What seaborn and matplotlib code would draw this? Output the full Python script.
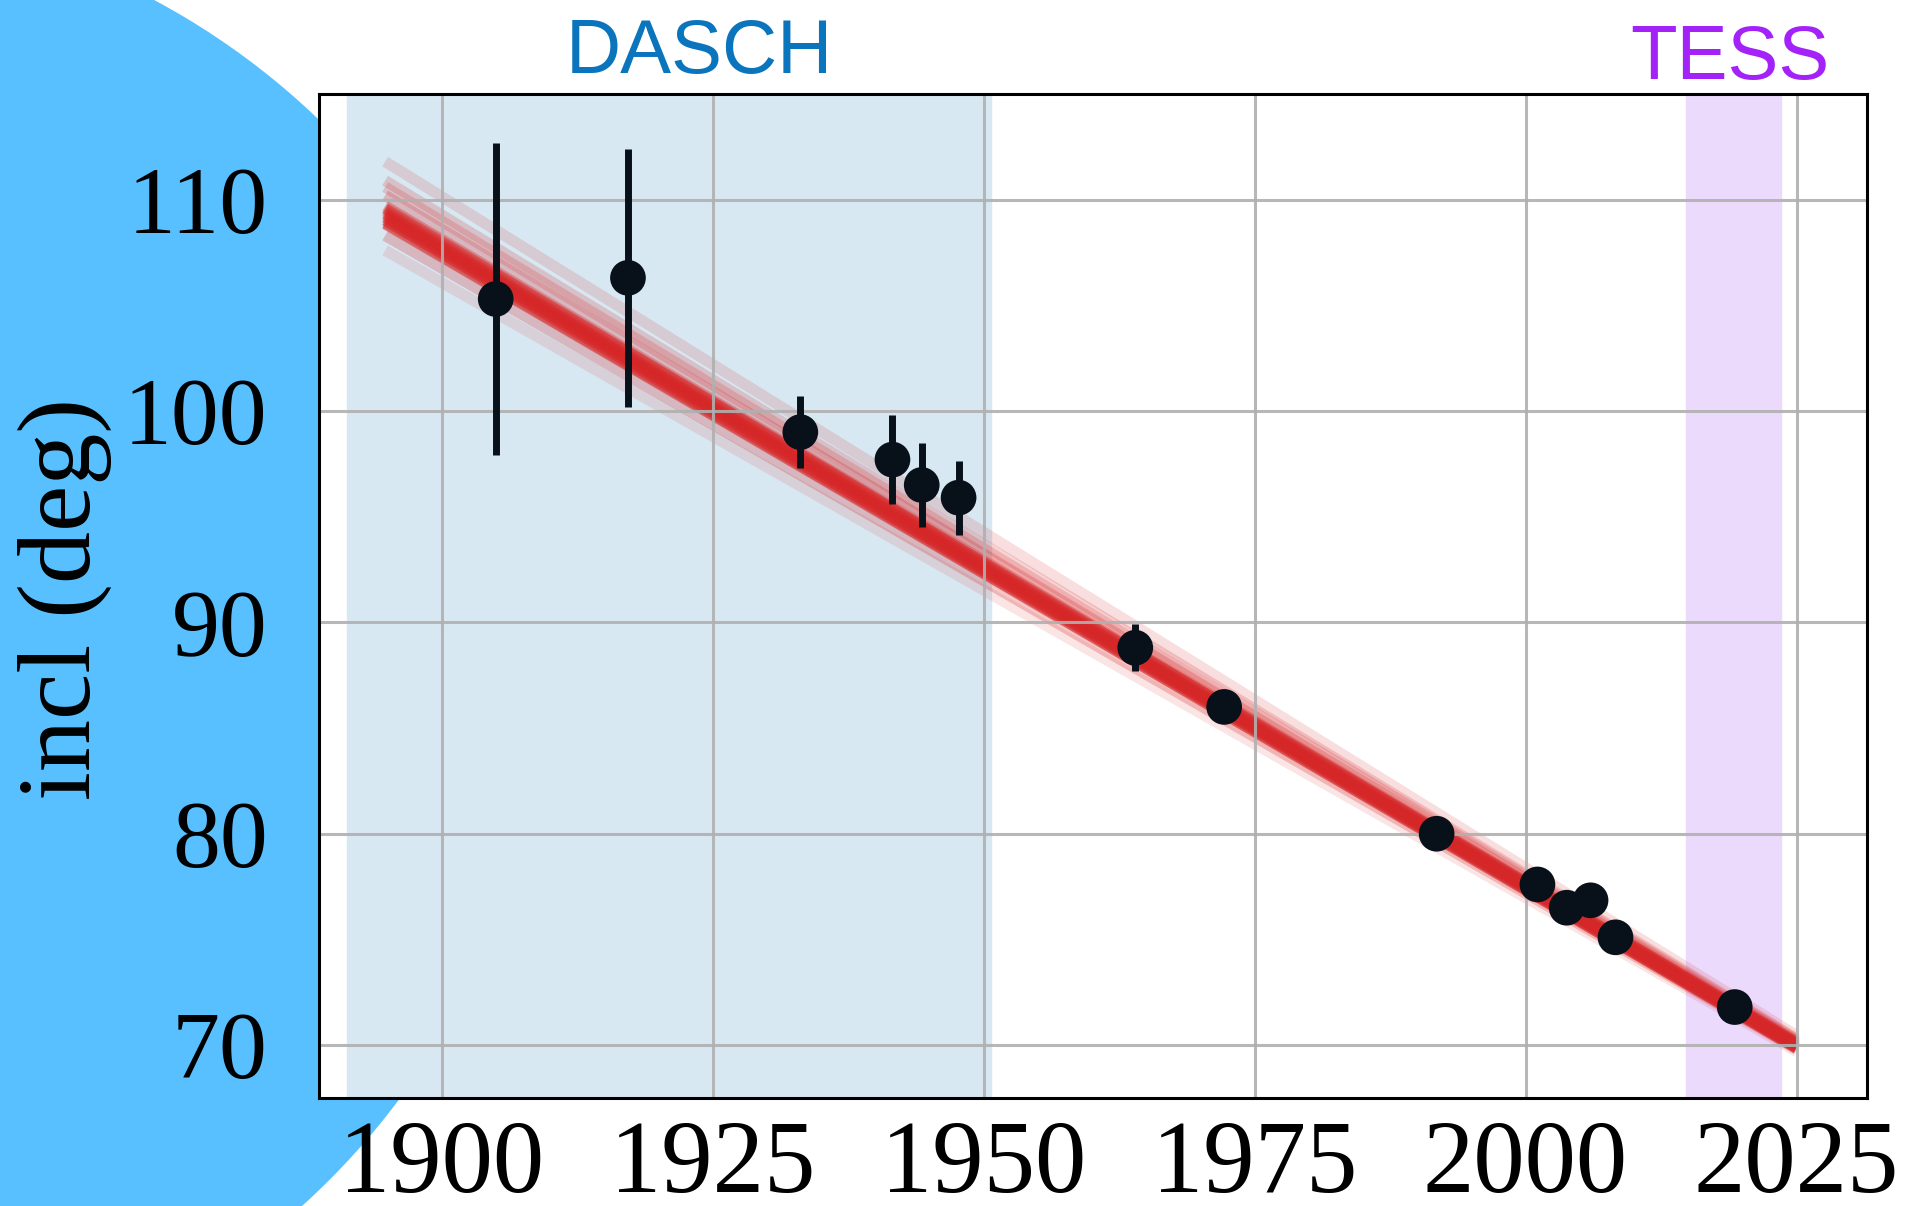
import numpy as np
import pandas as pd
import seaborn as sns
import matplotlib.pyplot as plt
from matplotlib.patches import Ellipse

# observed inclinations
years = [1905.0, 1917.2, 1933.1, 1941.6, 1944.3, 1947.7, 1964.0, 1972.2,
         1991.8, 2001.1, 2003.8, 2006.0, 2008.3, 2019.3]
incl = [105.3, 106.3, 99.0, 97.7, 96.5, 95.9, 88.8, 86.0,
        80.0, 77.6, 76.5, 76.85, 75.1, 71.8]
incl_err = [7.4, 6.1, 1.7, 2.1, 2.0, 1.75, 1.1, 0.4,
            0.3, 0.3, 0.3, 0.3, 0.3, 0.3]

# posterior draws of the linear trend, read at the two ends
fit_x0, fit_x1 = 1894.8, 2025.0
fit_start = [109.6, 109.45, 109.3, 109.15, 109.0, 108.85, 109.55, 109.35,
             109.2, 109.05, 108.9, 109.7, 110.6, 110.9, 111.8, 107.6, 108.3, 110.2]
fit_end = [70.1, 70.05, 70.0, 69.95, 69.9, 69.85, 70.1, 70.0,
           69.95, 69.9, 69.85, 70.15, 70.25, 70.3, 70.45, 69.7, 69.8, 70.2]
fit_alpha = [0.45, 0.45, 0.45, 0.45, 0.45, 0.45, 0.45, 0.45,
             0.45, 0.45, 0.45, 0.35, 0.2, 0.2, 0.15, 0.12, 0.25, 0.25]

# survey windows
dasch_span = (1891.3, 1950.7)
tess_span = (2014.8, 2023.6)

sns.set_style("white")
plt.rcParams['font.family'] = ['Liberation Serif', 'DejaVu Serif']

fig = plt.figure(figsize=(19.08, 12.06), dpi=100)

# decorative blue disc behind the axes
disc = Ellipse((-0.1027, 0.4569), 0.7778, 1.2305,
               transform=fig.transFigure, color='#58c0ff', zorder=-10)
fig.patches.append(disc)

ax = fig.add_axes([0.1672, 0.0896, 0.8113, 0.8325])
ax.set_zorder(1)
ax.set_facecolor('white')

ax.axvspan(*dasch_span, color='#d8e8f2', zorder=0)
ax.axvspan(*tess_span, color='#ecdafc', zorder=0)

for s, e, a in zip(fit_start, fit_end, fit_alpha):
    df = pd.DataFrame({'year': [fit_x0, fit_x1], 'incl': [s, e]})
    sns.lineplot(data=df, x='year', y='incl', ax=ax, color='#d62728',
                 alpha=a, lw=8, zorder=2, solid_capstyle='butt')

ax.errorbar(years, incl, yerr=incl_err, fmt='none', ecolor='#08101a',
            elinewidth=5, zorder=3)
sns.scatterplot(x=years, y=incl, ax=ax, color='#08101a', s=660,
                edgecolor='none', zorder=4)

ax.set_xlim(1888.7, 2031.5)
ax.set_ylim(67.5, 115.0)
ax.set_xticks([1900, 1925, 1950, 1975, 2000, 2025])
ax.set_yticks([70, 80, 90, 100, 110])
ax.grid(True, color='#b0b0b0', lw=2.2, alpha=0.9)
ax.set_axisbelow(False)
for line in ax.get_xgridlines() + ax.get_ygridlines():
    line.set_zorder(1)

for sp in ax.spines.values():
    sp.set_visible(True)
    sp.set_color('black')
    sp.set_linewidth(2.2)
    sp.set_zorder(5)

ax.tick_params(axis='both', length=10, width=2.2, direction='out', colors='black')
ax.tick_params(axis='x', labelsize=74, pad=6)
ax.tick_params(axis='y', labelsize=69, pad=27)
ax.set_xlabel('')
ax.set_ylabel('incl (deg)', fontsize=75, color='black')
ax.yaxis.set_label_coords(-0.134, 0.497)

fig.text(0.3667, 0.9395, 'DASCH', color='#0a74bc', fontsize=55,
         family=['Liberation Sans', 'DejaVu Sans'], ha='center', va='baseline')
fig.text(0.9069, 0.9345, 'TESS', color='#a322f8', fontsize=55,
         family=['Liberation Sans', 'DejaVu Sans'], ha='center', va='baseline')

fig.savefig('out.png', dpi=100)
